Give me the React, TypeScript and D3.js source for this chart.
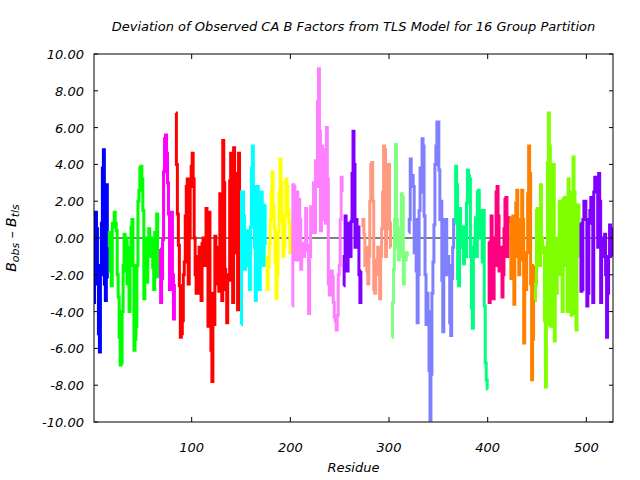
import React from "react";
import * as d3 from "d3";

const groupColors = ["#0000ff","#00ff00","#ff00ff","#ff0000","#00ffff","#ffff00","#ff80ff","#8000ff","#ff9980","#80ff80","#8080ff","#00ff80","#ff0080","#ff8000","#80ff00","#8000ff"];
const groupStarts = [1, 16, 68, 84, 150, 176, 202, 254, 273, 303, 320, 367, 401, 423, 448, 494];

const g01 = [-3.5, -2.5, 1.4, 0.5, -1.5, -5.2, -6.2, -2.0, 0.8, 3.8, 4.8, -2.5, -3.4, 2.9, -2.2];
const g02 = [-0.5, 0.3, -1.8, -2.6, 0.8, 0.6, 1.4, 0.8, 0.4, -2.0, -3.2, -5.4, -6.9, -6.8, -4.0, -1.5, 0.2, -1.8, 0.0, -2.5, -1.2, -4.0, -0.5, 0.6, 1.0, -1.5, -6.1, -5.5, -4.8, -1.5, 2.0, 2.6, 3.8, 3.9, 3.2, 1.5, -3.3, -1.0, 0.0, -2.4, -0.3, 0.5, -1.0, -0.2, 0.0, -1.6, -2.8, 0.3, -0.5, 1.3, -2.1, -0.8];
const g03 = [-0.6, -3.5, -2.2, -0.1, 3.6, 5.4, 5.6, 4.6, 3.0, 1.3, -2.8, -0.5, 1.4, -2.0, -4.4, -2.5];
const g04 = [6.8, 4.0, 1.3, -0.4, -2.6, -5.4, -5.2, -4.5, -2.0, -1.3, 1.2, 2.8, 3.2, -2.5, 0.0, 2.8, 3.9, 4.6, 3.2, 0.0, -2.0, -3.0, -1.0, -2.0, -0.5, -3.0, -3.4, -0.3, 0.0, -1.5, -1.0, 1.6, 0.8, -4.8, 1.4, -3.5, -6.1, -7.8, -3.0, -4.7, 0.1, -2.5, -0.5, -1.2, -2.9, 2.4, 0.5, -3.4, 5.3, 3.0, -1.7, -2.8, -4.6, -2.0, -2.3, 3.1, 4.6, 2.0, -3.5, 4.9, 3.5, -0.8, 2.2, -3.9, 4.6, 0.2];
const g05 = [-4.7, 2.5, 2.5, 1.2, -1.7, 0.3, 0.4, -1.5, -0.5, -2.8, 0.6, 3.8, 5.0, 2.8, -0.5, -3.4, -0.5, 2.8, 0.5, -2.8, 0.5, 2.5, 1.5, -1.5, -0.3, 1.8];
const g06 = [-1.0, -2.8, -1.6, -0.3, 1.0, 2.5, 3.6, 1.8, 0.5, -1.3, -3.3, -2.0, 0.3, 2.5, 4.3, 3.0, 0.8, -1.0, -0.5, 1.2, 3.2, 2.8, 1.5, 0.8, -0.8, 0.5];
const g07 = [-3.7, 2.9, 2.8, 1.5, -1.2, 2.5, -1.2, 2.1, 1.0, -1.7, -0.3, -0.8, -1.0, -0.5, 1.6, -0.4, -0.7, -4.1, -1.0, 1.7, 0.3, 1.2, 3.0, 0.3, 4.2, 2.8, 7.4, 9.2, 5.8, 0.4, 5.0, 4.8, 4.0, 1.0, 0.8, 6.0, 3.2, -2.5, -3.1, -2.5, -1.8, -2.1, -3.5, -4.3, -4.5, -5.0, -4.2, -2.0, -1.5, 1.0, 3.3, 2.5];
const g08 = [-2.6, -1.0, 1.2, -0.5, -1.8, 0.8, 0.0, -1.0, 0.9, 3.5, 5.8, 4.0, -0.5, 1.0, -0.5, 0.6, -2.0, -3.5, -1.8];
const g09 = [0.6, 1.0, 0.2, -1.5, -0.5, -1.8, -2.5, -1.0, 2.0, 4.0, 4.1, 2.0, -2.8, -3.0, -1.5, -1.2, -0.5, -2.0, -3.3, -1.0, 0.5, 2.5, 5.0, 4.8, -1.0, 0.5, 1.0, 4.0, 0.8, -0.5];
const g10 = [-5.4, -3.5, -1.7, 1.0, 5.1, 1.0, -0.5, -1.2, 0.5, -1.0, 2.4, 2.2, -2.5, -1.0, -1.2, -0.8, -1.0];
const g11 = [0.3, 1.0, 4.3, 3.2, 3.4, 2.8, -0.8, 1.0, -1.8, -4.6, -2.0, 1.5, 3.8, 2.5, 5.4, 5.0, 1.2, -2.0, -4.7, -3.0, -4.0, -7.2, -9.9, -7.4, -3.0, -1.3, 0.7, 4.0, 5.0, 6.3, 6.3, 3.7, 1.0, 2.0, -2.3, -5.1, -1.5, 1.0, 1.0, -2.0, -1.0, -1.5, -4.6, -5.3, -2.2, -0.5, 1.0];
const g12 = [0.8, 3.9, 2.9, -2.2, -2.6, 1.6, 0.5, -0.5, 0.6, -1.4, 0.0, -1.0, 1.9, 3.7, 3.4, 3.2, -1.0, -3.8, -4.9, -0.5, 0.0, 1.1, -1.0, 2.5, 2.6, 0.9, 0.0, 1.5, -1.3, 1.5, -3.7, -6.8, -7.7, -8.2];
const g13 = [-0.2, -3.5, -0.5, 1.2, -1.0, -3.3, 0.0, -1.5, 2.5, 2.8, 1.2, -1.8, -0.5, -1.8, -3.2, -2.0, 0.5, 2.1, 2.2, -1.0, 1.1, 0.8];
const g14 = [1.1, -2.2, 0.6, 1.2, -3.6, -1.0, 1.9, 2.6, 1.0, -2.0, -1.2, -0.5, 2.6, 1.0, -5.7, -1.0, -2.8, -0.8, 2.4, 5.0, 3.5, -2.5, -7.7, -5.5, -1.5];
const g15 = [-3.4, -2.5, 1.5, 1.6, -1.3, -1.5, 2.9, 0.0, -0.8, -0.5, -4.5, -8.1, -4.7, 4.1, 6.8, 5.0, -4.8, 0.0, 4.0, 4.0, -5.6, -3.0, -3.0, 0.0, -1.5, 2.0, -2.0, -1.0, -4.0, 2.1, 2.2, -1.5, 0.0, -4.0, 3.2, 2.5, 2.4, -4.2, 0.8, 4.4, 2.5, -4.1, -5.0, 1.0, 1.8, -1.0];
const g16 = [0.8, -2.9, -2.8, 1.0, 2.0, 2.0, 1.0, -3.7, -3.0, 0.8, 1.5, 2.2, 2.0, -3.5, 2.5, 3.3, 3.2, 2.5, -0.5, 3.5, 2.0, -3.5, 0.0, -1.0, 0.0, 0.2, -2.0, -5.4, -3.0, -1.0, 0.7, 0.5, -1.0];

const groupValues = [g01, g02, g03, g04, g05, g06, g07, g08, g09, g10, g11, g12, g13, g14, g15, g16];

const xTicks = [100, 200, 300, 400, 500];
const yTicks = [-10, -8, -6, -4, -2, 0, 2, 4, 6, 8, 10];
const titleText = "Deviation of Observed CA B Factors from TLS Model for 16 Group Partition";

export default function App() {
  const W = 640, H = 480;
  const left = 94, right = 613, top = 54, bottom = 422;
  const x = d3.scaleLinear().domain([1, 527]).range([left, right]);
  const y = d3.scaleLinear().domain([-10, 10]).range([bottom, top]);
  const line = d3.line<[number, number]>().x(d => x(d[0])).y(d => y(d[1])).curve(d3.curveStep);
  const font = "'DejaVu Sans', Verdana, sans-serif";

  return (
    <svg width={W} height={H} style={{ position: "absolute", left: 0, top: 0, background: "#fff" }}>
      <defs>
        <clipPath id="plotclip"><rect x={left} y={top} width={right - left} height={bottom - top} /></clipPath>
      </defs>
      <rect x={0} y={0} width={W} height={H} fill="#fff" />
      <line x1={left} x2={right} y1={y(0)} y2={y(0)} stroke="#000" strokeWidth={1} />
      <g clipPath="url(#plotclip)">
        {groupValues.map((vals, gi) => {
          const pts: [number, number][] = vals.map((v, i) => [groupStarts[gi] + i, v]);
          return <path key={gi} d={line(pts) || ""} fill="none" stroke={groupColors[gi]} strokeWidth={3} strokeLinejoin="miter" />;
        })}
      </g>
      <rect x={left} y={top} width={right - left} height={bottom - top} fill="none" stroke="#000" strokeWidth={1} />
      {xTicks.map(t => (
        <g key={"x" + t}>
          <line x1={x(t)} x2={x(t)} y1={bottom} y2={bottom - 5} stroke="#000" />
          <line x1={x(t)} x2={x(t)} y1={top} y2={top + 5} stroke="#000" />
          <text x={x(t)} y={452} textAnchor="middle" fontFamily={font} fontStyle="italic" fontSize={13}>{t}</text>
        </g>
      ))}
      {yTicks.map(t => (
        <g key={"y" + t}>
          <line x1={left} x2={left + 4} y1={y(t)} y2={y(t)} stroke="#000" />
          <line x1={right} x2={right - 4} y1={y(t)} y2={y(t)} stroke="#000" />
          <text x={84} y={y(t) + 5} textAnchor="end" fontFamily={font} fontStyle="italic" fontSize={13}>{t.toFixed(2)}</text>
        </g>
      ))}
      <text x={(left + right) / 2} y={31} textAnchor="middle" fontFamily={font} fontStyle="italic" fontSize={13}>{titleText}</text>
      <text x={(left + right) / 2} y={472} textAnchor="middle" fontFamily={font} fontStyle="italic" fontSize={13}>Residue</text>
      <text transform={`translate(16, ${y(0)}) rotate(-90)`} textAnchor="middle" fontFamily={font} fontStyle="italic" fontSize={14}>
        B<tspan fontSize={11} dy={3}>obs</tspan><tspan dy={-3}>{"  \u2013  B"}</tspan><tspan fontSize={11} dy={3}>tls</tspan>
      </text>
    </svg>
  );
}
